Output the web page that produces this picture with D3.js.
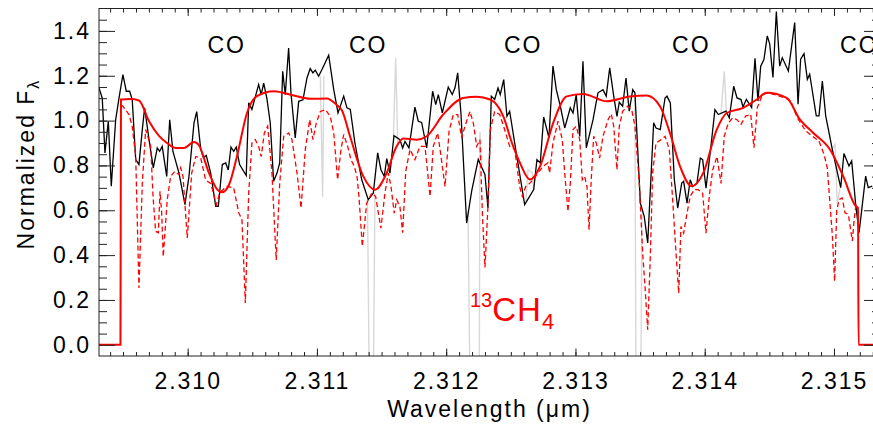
<!DOCTYPE html>
<html lang="en">
<head>
<meta charset="UTF-8">
<title>13CH4 spectrum</title>
<script src="https://cdn.jsdelivr.net/npm/d3@7"></script>
<style>
    body{ margin:0; background:#fff; }
    svg{ display:block; font-family:"Liberation Sans", Arial, sans-serif; }
</style>
</head>
<body>
<script>
// observed spectrum: [wavelength (um), normalized flux]
const observed = [
    [2.309314,1.146],[2.309339,1.101],[2.309360,0.856],[2.309386,0.997],[2.309409,0.707],
    [2.309443,1.004],[2.309469,1.101],[2.309499,1.205],[2.309525,1.131],[2.309551,1.131],
    [2.309571,1.094],[2.309598,0.826],[2.309623,0.804],[2.309649,0.960],[2.309667,1.057],
    [2.309701,0.915],[2.309734,0.789],[2.309765,0.878],[2.309783,0.863],[2.309803,0.885],
    [2.309838,0.751],[2.309861,1.004],[2.309886,0.863],[2.309933,0.766],[2.309979,0.625],
    [2.310010,0.751],[2.310049,0.990],[2.310070,1.040],[2.310101,0.872],[2.310121,0.836],
    [2.310144,0.844],[2.310178,0.766],[2.310217,0.618],[2.310237,0.618],[2.310268,0.804],
    [2.310294,0.811],[2.310314,0.780],[2.310335,0.882],[2.310356,0.863],[2.310376,0.882],
    [2.310402,0.804],[2.310453,0.755],[2.310472,1.079],[2.310497,1.050],[2.310549,1.161],
    [2.310569,1.116],[2.310588,1.167],[2.310613,1.098],[2.310639,0.989],[2.310665,0.729],
    [2.310691,0.766],[2.310712,0.811],[2.310735,1.220],[2.310755,1.116],[2.310781,1.324],
    [2.310799,1.124],[2.310832,0.923],[2.310859,1.086],[2.310892,1.093],[2.310923,1.190],
    [2.310948,1.232],[2.310969,1.213],[2.310987,1.225],[2.311013,1.198],[2.311039,1.228],
    [2.311091,1.292],[2.311130,1.138],[2.311163,1.034],[2.311207,1.109],[2.311232,1.057],
    [2.311258,1.050],[2.311294,0.900],[2.311346,0.737],[2.311397,0.647],[2.311436,0.676],
    [2.311470,0.856],[2.311495,0.781],[2.311521,0.751],[2.311540,0.830],[2.311565,0.766],
    [2.311596,0.933],[2.311642,0.915],[2.311663,0.878],[2.311681,0.907],[2.311712,0.878],
    [2.311758,1.060],[2.311784,0.997],[2.311810,0.992],[2.311849,0.878],[2.311895,1.131],
    [2.311919,1.071],[2.311939,1.116],[2.311970,1.034],[2.312016,1.149],[2.312047,1.116],
    [2.312068,1.146],[2.312089,1.213],[2.312114,1.034],[2.312158,0.543],[2.312197,0.685],
    [2.312248,0.827],[2.312300,0.759],[2.312323,0.610],[2.312349,1.109],[2.312375,1.094],
    [2.312401,1.146],[2.312418,1.116],[2.312445,1.183],[2.312470,1.019],[2.312491,1.042],
    [2.312542,0.856],[2.312607,0.625],[2.312677,0.692],[2.312702,0.826],[2.312728,0.811],
    [2.312754,1.016],[2.312795,0.923],[2.312826,1.243],[2.312852,1.138],[2.312883,1.064],
    [2.312917,0.967],[2.312960,1.057],[2.312981,1.034],[2.313006,1.116],[2.313033,0.929],
    [2.313058,1.265],[2.313084,0.878],[2.313136,1.004],[2.313174,1.124],[2.313213,1.138],
    [2.313238,1.109],[2.313265,1.235],[2.313296,1.109],[2.313321,1.019],[2.313339,1.082],
    [2.313365,1.064],[2.313391,1.190],[2.313416,1.042],[2.313443,1.138],[2.313460,1.124],
    [2.313502,0.632],[2.313532,0.573],[2.313559,0.454],[2.313605,0.990],[2.313623,0.967],
    [2.313656,0.960],[2.313693,1.101],[2.313708,1.109],[2.313734,1.079],[2.313765,0.736],
    [2.313791,0.610],[2.313822,0.721],[2.313837,0.729],[2.313863,0.632],[2.313888,0.736],
    [2.313907,0.706],[2.313940,0.721],[2.313966,0.833],[2.313984,0.826],[2.314010,0.699],
    [2.314048,0.885],[2.314079,1.049],[2.314105,1.027],[2.314164,1.042],[2.314190,1.012],
    [2.314224,1.153],[2.314250,1.101],[2.314281,1.094],[2.314296,1.061],[2.314322,1.095],
    [2.314363,1.058],[2.314389,1.278],[2.314412,1.088],[2.314433,1.243],[2.314458,1.272],
    [2.314484,1.378],[2.314503,1.341],[2.314528,1.192],[2.314554,1.487],[2.314580,1.243],
    [2.314600,1.280],[2.314647,1.221],[2.314696,1.437],[2.314722,1.073],[2.314742,1.274],
    [2.314768,1.299],[2.314794,1.184],[2.314812,1.207],[2.314863,1.021],[2.314884,1.021],
    [2.314910,1.176],[2.314936,1.021],[2.314987,0.872],[2.315052,0.701],[2.315077,0.853],
    [2.315116,0.798],[2.315137,0.820],[2.315168,0.626],[2.315194,0.500],[2.315245,0.752],
    [2.315265,0.701],[2.315296,0.708]
];

// uncorrected spectrum, only where it departs from the observed one
const uncorrected = [
    [[2.311026,1.200],[2.311044,0.660],[2.311054,1.200]],
    [[2.311391,0.650],[2.311405,-0.200],[2.311436,-0.200],[2.311449,0.680]],
    [[2.311592,0.930],[2.311609,1.280],[2.311625,0.900]],
    [[2.312169,0.600],[2.312184,-0.200],[2.312256,-0.200],[2.312261,0.950],[2.312277,0.800]],
    [[2.312617,0.640],[2.312633,0.780],[2.312664,0.770],[2.312679,0.690]],
    [[2.313460,1.120],[2.313468,-0.200],[2.313505,-0.200],[2.313515,0.600]],
    [[2.314126,1.030],[2.314151,1.220],[2.314168,1.040]],
    [[2.314985,0.870],[2.315008,0.894],[2.315026,0.630],[2.315047,0.700]]
];

// smoothed 13CH4 model (red solid)
const modelSmooth = [
    [2.309314,0.000],[2.309480,0.000],[2.309484,1.094],[2.309554,1.096],[2.309623,1.090],
    [2.309701,0.997],[2.309778,0.932],[2.309840,0.900],[2.309907,0.878],[2.309971,0.878],
    [2.310049,0.905],[2.310087,0.890],[2.310165,0.766],[2.310229,0.692],[2.310265,0.680],
    [2.310320,0.714],[2.310381,0.840],[2.310459,1.034],[2.310536,1.109],[2.310665,1.131],
    [2.310820,1.112],[2.310948,1.097],[2.311075,1.099],[2.311153,1.070],[2.311194,1.045],
    [2.311256,0.930],[2.311359,0.751],[2.311449,0.692],[2.311540,0.767],[2.311612,0.880],
    [2.311668,0.920],[2.311772,0.915],[2.311849,0.930],[2.311977,1.027],[2.312132,1.101],
    [2.312236,1.106],[2.312339,1.094],[2.312442,1.019],[2.312509,0.900],[2.312571,0.811],
    [2.312648,0.737],[2.312726,0.796],[2.312828,0.990],[2.312932,1.108],[2.313061,1.119],
    [2.313242,1.086],[2.313422,1.108],[2.313551,1.112],[2.313654,1.064],[2.313731,0.945],
    [2.313809,0.796],[2.313899,0.707],[2.313989,0.767],[2.314093,0.960],[2.314170,1.034],
    [2.314298,1.057],[2.314402,1.094],[2.314479,1.124],[2.314634,1.101],[2.314737,1.004],
    [2.314840,0.945],[2.314969,0.871],[2.315072,0.751],[2.315168,0.619],[2.315186,0.610],
    [2.315190,0.000],[2.315356,0.000]
];

// full resolution 13CH4 model (red dashed)
const modelFull = [
    [2.309486,1.070],[2.309499,1.064],[2.309546,1.027],[2.309571,0.974],[2.309598,0.840],
    [2.309623,0.253],[2.309649,0.720],[2.309675,0.960],[2.309695,0.923],[2.309714,0.885],
    [2.309732,0.662],[2.309752,0.506],[2.309773,0.500],[2.309786,0.685],[2.309799,0.587],
    [2.309811,0.393],[2.309842,0.647],[2.309868,0.751],[2.309902,0.774],[2.309933,0.759],
    [2.309946,0.789],[2.309964,0.751],[2.309997,0.476],[2.310010,0.587],[2.310031,0.766],
    [2.310062,0.840],[2.310101,0.833],[2.310139,0.735],[2.310178,0.720],[2.310203,0.668],
    [2.310221,0.625],[2.310250,0.680],[2.310304,0.707],[2.310356,0.700],[2.310395,0.589],
    [2.310420,0.558],[2.310446,0.186],[2.310472,0.676],[2.310497,0.900],[2.310523,0.915],
    [2.310549,0.885],[2.310569,0.840],[2.310593,0.945],[2.310619,0.975],[2.310652,0.766],
    [2.310685,0.378],[2.310712,0.720],[2.310743,0.930],[2.310781,0.945],[2.310807,0.915],
    [2.310846,0.766],[2.310877,0.610],[2.310910,0.871],[2.310944,1.004],[2.310969,0.915],
    [2.310995,0.989],[2.311026,1.041],[2.311065,1.049],[2.311103,1.019],[2.311130,0.945],
    [2.311160,0.736],[2.311186,0.871],[2.311207,0.938],[2.311238,0.885],[2.311263,0.826],
    [2.311289,0.796],[2.311310,0.751],[2.311325,0.662],[2.311351,0.439],[2.311385,0.632],
    [2.311424,0.676],[2.311454,0.662],[2.311495,0.520],[2.311526,0.676],[2.311552,0.766],
    [2.311573,0.706],[2.311598,0.587],[2.311617,0.647],[2.311642,0.617],[2.311663,0.500],
    [2.311687,0.774],[2.311720,0.871],[2.311758,0.826],[2.311797,0.885],[2.311836,0.885],
    [2.311875,0.662],[2.311900,0.885],[2.311934,0.945],[2.311960,0.840],[2.311991,0.706],
    [2.312022,0.952],[2.312055,1.027],[2.312089,1.027],[2.312120,0.923],[2.312145,0.975],
    [2.312184,1.041],[2.312210,0.989],[2.312236,0.885],[2.312261,0.915],[2.312281,0.570],
    [2.312300,0.345],[2.312323,0.617],[2.312341,0.958],[2.312375,1.041],[2.312414,1.027],
    [2.312452,0.960],[2.312491,0.885],[2.312530,0.871],[2.312568,0.706],[2.312589,0.662],
    [2.312615,0.706],[2.312646,0.720],[2.312671,0.736],[2.312710,0.766],[2.312749,0.796],
    [2.312787,0.811],[2.312800,0.766],[2.312826,0.900],[2.312865,0.997],[2.312898,0.915],
    [2.312917,0.766],[2.312942,0.595],[2.312960,0.720],[2.312981,0.960],[2.313006,0.975],
    [2.313033,0.915],[2.313053,0.736],[2.313071,0.751],[2.313089,0.706],[2.313105,0.513],
    [2.313122,0.736],[2.313141,0.930],[2.313161,0.900],[2.313187,0.833],[2.313213,0.930],
    [2.313252,1.004],[2.313277,1.030],[2.313296,0.975],[2.313321,0.781],[2.313339,0.975],
    [2.313365,1.041],[2.313404,1.064],[2.313435,1.049],[2.313460,0.975],[2.313494,0.720],
    [2.313520,0.408],[2.313538,0.260],[2.313559,0.067],[2.313579,0.393],[2.313597,0.766],
    [2.313623,0.900],[2.313662,0.915],[2.313693,0.930],[2.313726,0.871],[2.313752,0.647],
    [2.313778,0.408],[2.313799,0.230],[2.313816,0.528],[2.313837,0.498],[2.313863,0.587],
    [2.313888,0.662],[2.313919,0.692],[2.313950,0.692],[2.313984,0.676],[2.314010,0.498],
    [2.314035,0.662],[2.314062,0.781],[2.314095,0.840],[2.314126,0.720],[2.314151,0.930],
    [2.314182,0.989],[2.314216,1.012],[2.314250,1.004],[2.314281,0.983],[2.314317,1.020],
    [2.314356,1.028],[2.314381,0.879],[2.314407,1.058],[2.314445,1.115],[2.314484,1.125],
    [2.314549,1.115],[2.314626,1.100],[2.314665,1.088],[2.314716,1.013],[2.314781,0.954],
    [2.314832,0.931],[2.314884,0.909],[2.314923,0.849],[2.314948,0.790],[2.314987,0.491],
    [2.315005,0.283],[2.315021,0.596],[2.315039,0.648],[2.315064,0.655],[2.315085,0.589],
    [2.315111,0.582],[2.315142,0.463],[2.315155,0.552],[2.315168,0.614]
];

const xTicks = [2.310, 2.311, 2.312, 2.313, 2.314, 2.315];
const yTicks = [0.0, 0.2, 0.4, 0.6, 0.8, 1.0, 1.2, 1.4];
const coWaves = [2.310302, 2.311397, 2.312596, 2.313896, 2.315196];
const coLevel = 1.30;
const ch4Label = {wave: 2.312184, level: 0.104};

let width = 873;
let height = 427;
let plotLeft = 99, plotRight = 880, plotTop = 8.5, plotBottom = 356;

let svg = d3.select("body")
    .append("svg")
    .attr("width", width)
    .attr("height", height)
    .style("overflow", "hidden");

let x = d3.scaleLinear()
    .domain([2.309314, 2.315356])
    .range([plotLeft, plotRight]);
let y = d3.scaleLinear()
    .domain([-0.05, 1.5])
    .range([plotBottom, plotTop]);

svg.append("defs").append("clipPath")
    .attr("id", "plotClip")
    .append("rect")
    .attr("x", plotLeft).attr("y", plotTop)
    .attr("width", plotRight - plotLeft).attr("height", plotBottom - plotTop);

let plot = svg.append("g").attr("clip-path", "url(#plotClip)");

let line = d3.line()
    .x(d => x(d[0]))
    .y(d => y(d[1]));
let smoothLine = d3.line()
    .x(d => x(d[0]))
    .y(d => y(d[1]))
    .curve(d3.curveMonotoneX);

plot.selectAll(".gray")
    .data(uncorrected)
    .enter().append("path")
    .attr("class", "gray")
    .attr("fill", "none")
    .attr("stroke", "#d8d8d8")
    .attr("stroke-width", 1.4)
    .attr("d", line);

plot.append("path")
    .datum(observed)
    .attr("fill", "none")
    .attr("stroke", "#000")
    .attr("stroke-width", 1.3)
    .attr("d", line);

plot.append("path")
    .datum(modelFull)
    .attr("fill", "none")
    .attr("stroke", "#ff0000")
    .attr("stroke-width", 1.3)
    .attr("stroke-dasharray", "5,3")
    .attr("d", line);

plot.append("path")
    .datum(modelSmooth)
    .attr("fill", "none")
    .attr("stroke", "#ff0000")
    .attr("stroke-width", 2)
    .attr("d", smoothLine);

// axes: ticks point inward on all four sides
let tickFont = g => g.selectAll("text")
    .attr("font-size", 23)
    .attr("letter-spacing", "2px")
    .attr("fill", "#000")
    .style("font-family", "'Liberation Sans', Arial, sans-serif");

let xMinor = d3.range(2.3094, 2.31535, 0.0001);
let yMinor = d3.range(0.05, 1.5, 0.05);

function drawAxis(axis, transform, labels) {
    let g = svg.append("g").attr("transform", transform);
    axis(g);
    g.select(".domain").remove();
    g.selectAll("line").attr("stroke", "#222");
    if (labels) tickFont(g); else g.selectAll("text").remove();
    return g;
}

drawAxis(d3.axisBottom(x).tickValues(xTicks).tickSize(-7.5).tickPadding(17).tickFormat(d3.format(".3f")),
    `translate(0,${plotBottom})`, true);
drawAxis(d3.axisBottom(x).tickValues(xMinor).tickSize(-4).tickFormat(""), `translate(0,${plotBottom})`, false);
drawAxis(d3.axisTop(x).tickValues(xTicks).tickSize(-7.5).tickFormat(""), `translate(0,${plotTop})`, false);
drawAxis(d3.axisTop(x).tickValues(xMinor).tickSize(-4).tickFormat(""), `translate(0,${plotTop})`, false);

drawAxis(d3.axisLeft(y).tickValues(yTicks).tickSize(-16).tickPadding(8).tickFormat(d3.format(".1f")),
    `translate(${plotLeft},0)`, true);
drawAxis(d3.axisLeft(y).tickValues(yMinor).tickSize(-8).tickFormat(""), `translate(${plotLeft},0)`, false);
drawAxis(d3.axisRight(y).tickValues(yTicks).tickSize(-16).tickFormat(""), `translate(${plotRight},0)`, false);
drawAxis(d3.axisRight(y).tickValues(yMinor).tickSize(-8).tickFormat(""), `translate(${plotRight},0)`, false);

svg.append("rect")
    .attr("x", plotLeft).attr("y", plotTop)
    .attr("width", plotRight - plotLeft).attr("height", plotBottom - plotTop)
    .attr("fill", "none")
    .attr("stroke", "#222")
    .attr("stroke-width", 1);

// axis titles
svg.append("text")
    .attr("x", (plotLeft + plotRight) / 2)
    .attr("y", 417)
    .attr("text-anchor", "middle")
    .attr("font-size", 23)
    .attr("letter-spacing", "2px")
    .text("Wavelength (\u03bcm)");

let yTitle = svg.append("text")
    .attr("transform", "translate(33.5,164) rotate(-90)")
    .attr("text-anchor", "middle")
    .attr("font-size", 23)
    .attr("letter-spacing", "2px");
yTitle.append("tspan").text("Normalized F");
yTitle.append("tspan").attr("font-size", 16).attr("dy", 5).text("\u03bb");

// band labels
svg.selectAll(".co")
    .data(coWaves)
    .enter().append("text")
    .attr("class", "co")
    .attr("x", d => x(d))
    .attr("y", y(coLevel))
    .attr("text-anchor", "middle")
    .attr("font-size", 23)
    .attr("letter-spacing", "2px")
    .text("CO");

let ch4 = svg.append("text")
    .attr("x", x(ch4Label.wave))
    .attr("y", y(ch4Label.level))
    .attr("fill", "#ff0000");
ch4.append("tspan").attr("font-size", 20).attr("dy", -14).text("13");
ch4.append("tspan").attr("font-size", 33).attr("dy", 14).attr("letter-spacing", "1px").text("CH");
ch4.append("tspan").attr("font-size", 22).attr("dy", 8).text("4");
</script>
</body>
</html>
